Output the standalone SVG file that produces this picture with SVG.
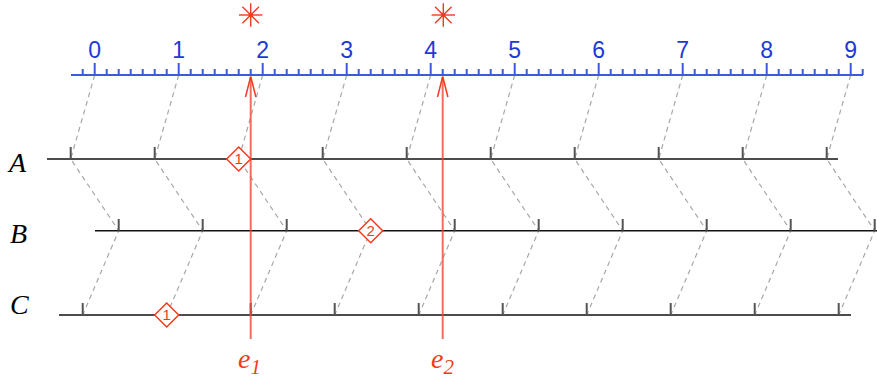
<svg xmlns="http://www.w3.org/2000/svg" width="877" height="379" viewBox="0 0 877 379">
<style>
.dash{stroke:#a8a8a8;stroke-width:1.2;stroke-dasharray:5 4;fill:none}
.tl{stroke:#111;stroke-width:1.6}
.tk{stroke:#555;stroke-width:2}
.ax{stroke:#3a5ae0;stroke-width:2}
.axt{stroke:#3a5ae0;stroke-width:2}
.dia{fill:#fff;stroke:#f03c1e;stroke-width:1.5}
.red{stroke:#f04a30;stroke-opacity:0.8;stroke-width:2}
.arr{stroke:#f03c1e;stroke-width:1.5;fill:none}
.star{stroke:#f03c1e;stroke-width:1.4}
</style>
<defs>
<g id="star">
<line class="star" x1="-11.7" y1="0" x2="11.7" y2="0"/>
<line class="star" x1="0" y1="-11.7" x2="0" y2="11.7"/>
<line class="star" x1="-8.3" y1="-8.3" x2="8.3" y2="8.3"/>
<line class="star" x1="-8.3" y1="8.3" x2="8.3" y2="-8.3"/>
<circle r="2.2" fill="#f03c1e"/>
</g>
<polygon id="dm" class="dia" points="0,-12 12,0 0,12 -12,0"/>
</defs>

<g id="connectors">
<path class="dash" d="M94.7,75L70.7,159L118.7,230.7L82.7,315"/>
<path class="dash" d="M178.7,75L154.7,159L202.7,230.7L166.7,315"/>
<path class="dash" d="M262.7,75L238.7,159L286.7,230.7L250.7,315"/>
<path class="dash" d="M346.7,75L322.7,159L370.7,230.7L334.7,315"/>
<path class="dash" d="M430.7,75L406.7,159L454.7,230.7L418.7,315"/>
<path class="dash" d="M514.7,75L490.7,159L538.7,230.7L502.7,315"/>
<path class="dash" d="M598.7,75L574.7,159L622.7,230.7L586.7,315"/>
<path class="dash" d="M682.7,75L658.7,159L706.7,230.7L670.7,315"/>
<path class="dash" d="M766.7,75L742.7,159L790.7,230.7L754.7,315"/>
<path class="dash" d="M850.7,75L826.7,159L874.7,230.7L838.7,315"/>
</g>

<g id="axis">
<line class="ax" x1="71" y1="75" x2="863" y2="75"/>
<path class="axt" d="M94.7,63V75M178.7,63V75M262.7,63V75M346.7,63V75M430.7,63V75M514.7,63V75M598.7,63V75M682.7,63V75M766.7,63V75M850.7,63V75"/>
<path class="axt" stroke-width="1.6" d="M82.7,69V75M106.7,69V75M118.7,69V75M130.7,69V75M142.7,69V75M154.7,69V75M166.7,69V75M190.7,69V75M202.7,69V75M214.7,69V75M226.7,69V75M238.7,69V75M250.7,69V75M274.7,69V75M286.7,69V75M298.7,69V75M310.7,69V75M322.7,69V75M334.7,69V75M358.7,69V75M370.7,69V75M382.7,69V75M394.7,69V75M406.7,69V75M418.7,69V75M442.7,69V75M454.7,69V75M466.7,69V75M478.7,69V75M490.7,69V75M502.7,69V75M526.7,69V75M538.7,69V75M550.7,69V75M562.7,69V75M574.7,69V75M586.7,69V75M610.7,69V75M622.7,69V75M634.7,69V75M646.7,69V75M658.7,69V75M670.7,69V75M694.7,69V75M706.7,69V75M718.7,69V75M730.7,69V75M742.7,69V75M754.7,69V75M778.7,69V75M790.7,69V75M802.7,69V75M814.7,69V75M826.7,69V75M838.7,69V75M862.7,69V75"/>
<g font-family="Liberation Sans, Arial, sans-serif" font-size="23" fill="#1b3ad6" text-anchor="middle">
<text x="94.7" y="58">0</text>
<text x="178.7" y="58">1</text>
<text x="262.7" y="58">2</text>
<text x="346.7" y="58">3</text>
<text x="430.7" y="58">4</text>
<text x="514.7" y="58">5</text>
<text x="598.7" y="58">6</text>
<text x="682.7" y="58">7</text>
<text x="766.7" y="58">8</text>
<text x="850.7" y="58">9</text>
</g>
</g>

<g id="lineA">
<line class="tl" x1="47" y1="159" x2="838" y2="159"/>
<path class="tk" d="M70.7,147V159M154.7,147V159M238.7,147V159M322.7,147V159M406.7,147V159M490.7,147V159M574.7,147V159M658.7,147V159M742.7,147V159M826.7,147V159"/>
<text x="9" y="171.5" font-family="Liberation Serif, Times New Roman, serif" font-style="italic" font-size="28">A</text>
</g>
<g id="lineB">
<line class="tl" x1="95" y1="230.7" x2="877" y2="230.7"/>
<path class="tk" d="M118.7,219V230.7M202.7,219V230.7M286.7,219V230.7M370.7,219V230.7M454.7,219V230.7M538.7,219V230.7M622.7,219V230.7M706.7,219V230.7M790.7,219V230.7M874.7,219V230.7"/>
<text x="10" y="243" font-family="Liberation Serif, Times New Roman, serif" font-style="italic" font-size="28">B</text>
</g>
<g id="lineC">
<line class="tl" x1="59" y1="315" x2="851" y2="315"/>
<path class="tk" d="M82.7,303V315M166.7,303V315M250.7,303V315M334.7,303V315M418.7,303V315M502.7,303V315M586.7,303V315M670.7,303V315M754.7,303V315M838.7,303V315"/>
<text x="10" y="314" font-family="Liberation Serif, Times New Roman, serif" font-style="italic" font-size="28">C</text>
</g>

<g id="event1">
<line class="red" x1="250.7" y1="77" x2="250.7" y2="339"/>
<path class="arr" d="M245.5,97L250.7,76.5L255.9,97"/>
<use href="#star" x="250.7" y="15"/>
<text x="238" y="368" font-family="Liberation Serif, Times New Roman, serif" font-style="italic" font-size="28" fill="#f03c1e">e<tspan font-size="21" dy="6">1</tspan></text>
</g>
<g id="event2">
<line class="red" x1="442.7" y1="77" x2="442.7" y2="339"/>
<path class="arr" d="M437.5,97L442.7,76.5L447.9,97"/>
<use href="#star" x="443.3" y="15"/>
<text x="431" y="368" font-family="Liberation Serif, Times New Roman, serif" font-style="italic" font-size="28" fill="#f03c1e">e<tspan font-size="21" dy="6">2</tspan></text>
</g>

<g font-family="Liberation Sans, Arial, sans-serif" font-size="15" fill="#f03c1e" text-anchor="middle">
<g id="marker1A">
<use href="#dm" x="238.7" y="159"/>
<text x="238.7" y="164.3">1</text>
</g>
<g id="marker2B">
<use href="#dm" x="370.7" y="230.7"/>
<text x="370.7" y="236">2</text>
</g>
<g id="marker1C">
<use href="#dm" x="166.7" y="315"/>
<text x="166.7" y="320.3">1</text>
</g>
</g>
</svg>
